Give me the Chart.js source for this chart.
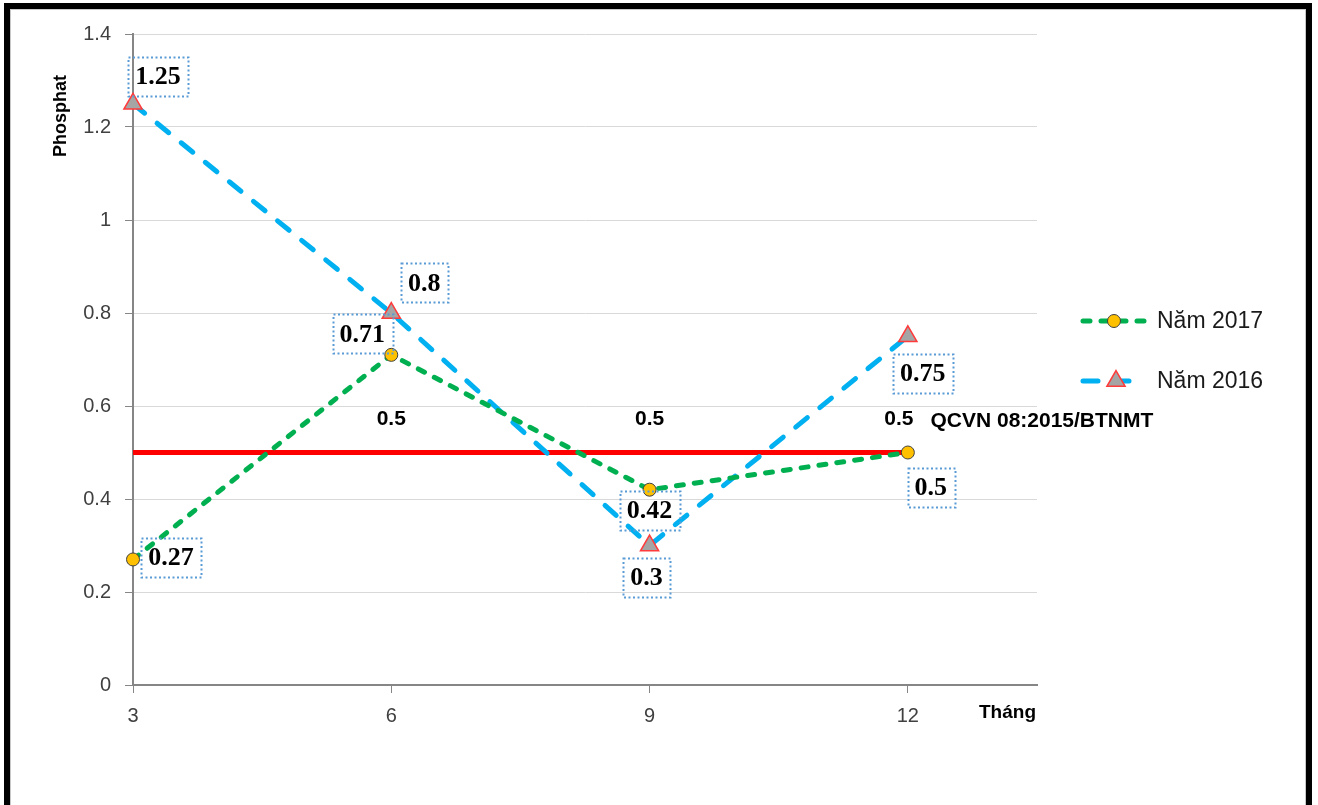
<!DOCTYPE html>
<html>
<head>
<meta charset="utf-8">
<script src="https://cdn.jsdelivr.net/npm/chart.js@4/dist/chart.umd.min.js"></script>
<style>
  html, body { margin: 0; padding: 0; background: #fff; overflow: hidden; }
  #wrap { position: relative; width: 1318px; height: 805px; }
  #frame {
    position: absolute; left: 4px; top: 3px; width: 1308px; height: 900px;
    box-sizing: border-box; border: 6px solid #000; border-bottom: none;
    box-shadow: inset 0 0 0 1px #c8c8c8; pointer-events: none;
  }
</style>
</head>
<body>
<div id="wrap">
  <canvas id="chart"></canvas>
  <div id="frame"></div>
</div>
<script>
// months sampled and Phosphat readings
const months = [3, 6, 9, 12];
const nam2017 = [0.27, 0.71, 0.42, 0.5];
const nam2016 = [1.25, 0.8, 0.3, 0.75];
const qcvnLimit = [0.5, 0.5, 0.5, 0.5];
const qcvnName = 'QCVN 08:2015/BTNMT';
const yAxisTitle = 'Phosphat';
const xAxisTitle = 'Tháng';

const pts = vals => months.map((m, i) => ({ x: m, y: vals[i] }));

// where each value box sits relative to its point (dx, dy of box centre)
const labelOffsets = {
  0: [[38, -2], [-29, -21], [0, 21], [23, 35]],
  1: [[25, -27], [33, -30], [-3, 32], [15, 37]]
};
const limitLabelOffsets = [null, [0, -33], [0, -33], [-9, -33]];

const labelPlugin = {
  id: 'labels',
  afterDatasetsDraw(chart) {
    const ctx = chart.ctx;
    ctx.save();
    // dotted value boxes for both years
    [0, 1].forEach(di => {
      const meta = chart.getDatasetMeta(di);
      const ds = chart.data.datasets[di];
      meta.data.forEach((el, i) => {
        const [dx, dy] = labelOffsets[di][i];
        const cx = el.x + dx, cy = el.y + dy;
        const txt = String(ds.data[i].y);
        ctx.font = 'bold 26px "Liberation Serif"';
        const w = ctx.measureText(txt).width + 14, h = 39;
        ctx.setLineDash([2, 2.5]);
        ctx.lineWidth = 2;
        ctx.strokeStyle = '#5B9BD5';
        ctx.strokeRect(Math.round(cx - w / 2) + 0.5, Math.round(cy - h / 2) + 0.5, Math.round(w), h);
        ctx.setLineDash([]);
        ctx.fillStyle = '#000';
        ctx.textAlign = 'center';
        ctx.textBaseline = 'middle';
        ctx.fillText(txt, cx, cy + 1);
      });
    });
    // limit line values and its name
    const lim = chart.getDatasetMeta(2);
    const lds = chart.data.datasets[2];
    ctx.font = 'bold 21px "Liberation Sans"';
    ctx.fillStyle = '#000';
    ctx.textBaseline = 'middle';
    lim.data.forEach((el, i) => {
      const off = limitLabelOffsets[i];
      if (!off) return;
      ctx.textAlign = 'center';
      const t = String(lds.data[i].y);
      ctx.fillText(t, el.x + off[0], el.y + off[1]);
      if (i === lim.data.length - 1) {
        ctx.textAlign = 'left';
        ctx.fillText(lds.label, el.x + off[0] + ctx.measureText(t).width / 2 + 17, el.y + off[1] + 2);
      }
    });
    // axis titles
    ctx.font = 'bold 19px "Liberation Sans"';
    ctx.textAlign = 'right';
    ctx.fillText(xAxisTitle, chart.chartArea.right - 1, chart.chartArea.bottom + 28);
    ctx.save();
    ctx.translate(61, chart.chartArea.top + 82);
    ctx.rotate(-Math.PI / 2);
    ctx.textAlign = 'center';
    ctx.font = 'bold 18px "Liberation Sans"';
    ctx.fillText(yAxisTitle, 0, 0);
    ctx.restore();

    // legend for the two years
    [0, 1].forEach((di, k) => {
      const ds = chart.data.datasets[di];
      const y = 321 + k * 60;
      const mx = di === 0 ? 1114 : 1116;
      ctx.strokeStyle = ds.borderColor;
      ctx.lineWidth = ds.borderWidth;
      ctx.lineCap = 'round';
      ctx.setLineDash(ds.borderDash);
      ctx.beginPath();
      ctx.moveTo(1083, y);
      ctx.lineTo(di === 0 ? 1147 : 1133, y);
      ctx.stroke();
      ctx.setLineDash([]);
      ctx.fillStyle = ds.pointBackgroundColor;
      ctx.strokeStyle = ds.pointBorderColor;
      ctx.lineWidth = ds.pointBorderWidth;
      ctx.beginPath();
      if (ds.pointStyle === 'circle') {
        ctx.arc(mx, y, ds.pointRadius, 0, Math.PI * 2);
      } else {
        const r = ds.pointRadius;
        ctx.moveTo(mx, y - r);
        ctx.lineTo(mx + r * 0.866, y + r * 0.5);
        ctx.lineTo(mx - r * 0.866, y + r * 0.5);
        ctx.closePath();
      }
      ctx.fill();
      ctx.stroke();
      ctx.fillStyle = '#1a1a1a';
      ctx.font = '23px "Liberation Sans"';
      ctx.textAlign = 'left';
      ctx.fillText(ds.label, 1157, y + 1);
    });
    ctx.restore();
  }
};

new Chart(document.getElementById('chart'), {
  type: 'line',
  data: {
    datasets: [
      {
        label: 'Năm 2017',
        data: pts(nam2017),
        borderColor: '#00B050',
        borderWidth: 5,
        borderDash: [7, 11],
        borderCapStyle: 'round',
        pointStyle: 'circle',
        pointRadius: 6.5,
        pointBackgroundColor: '#FFC000',
        pointBorderColor: '#404040',
        pointBorderWidth: 1,
        clip: false,
        order: 1
      },
      {
        label: 'Năm 2016',
        data: pts(nam2016),
        borderColor: '#00B0F0',
        borderWidth: 5,
        borderDash: [15, 16],
        borderCapStyle: 'round',
        pointStyle: 'triangle',
        pointRadius: 10.5,
        pointBackgroundColor: '#A5A5A5',
        pointBorderColor: '#FF3B3B',
        pointBorderWidth: 1.5,
        clip: false,
        order: 2
      },
      {
        label: qcvnName,
        data: pts(qcvnLimit),
        borderColor: '#FF0000',
        borderWidth: 5,
        pointRadius: 0,
        order: 3
      }
    ]
  },
  options: {
    responsive: true,
    maintainAspectRatio: false,
    animation: false,
    layout: { padding: { left: 0, right: 281, top: 34, bottom: 0 } },
    plugins: {
      legend: { display: false },
      tooltip: { enabled: false }
    },
    scales: {
      x: {
        type: 'linear',
        min: 3,
        max: 13.5,
        afterBuildTicks: s => { s.ticks = months.map(v => ({ value: v })); },
        afterFit: s => { s.height = 120; },
        ticks: { color: '#404040', font: { family: '"Liberation Sans"', size: 20 }, padding: 11 },
        grid: { drawOnChartArea: false, drawTicks: true, tickLength: 8, tickColor: '#868686', tickWidth: 1 },
        border: { color: '#868686', width: 2 }
      },
      y: {
        min: 0,
        max: 1.4,
        afterFit: s => { s.width = 133; },
        ticks: {
          stepSize: 0.2,
          color: '#404040',
          font: { family: '"Liberation Sans"', size: 20 },
          padding: 14,
          callback: v => String(Math.round(v * 10) / 10)
        },
        grid: { color: '#D9D9D9', lineWidth: 1, tickLength: 8, tickColor: '#868686' },
        border: { color: '#868686', width: 2 }
      }
    }
  },
  plugins: [labelPlugin]
});
</script>
</body>
</html>
